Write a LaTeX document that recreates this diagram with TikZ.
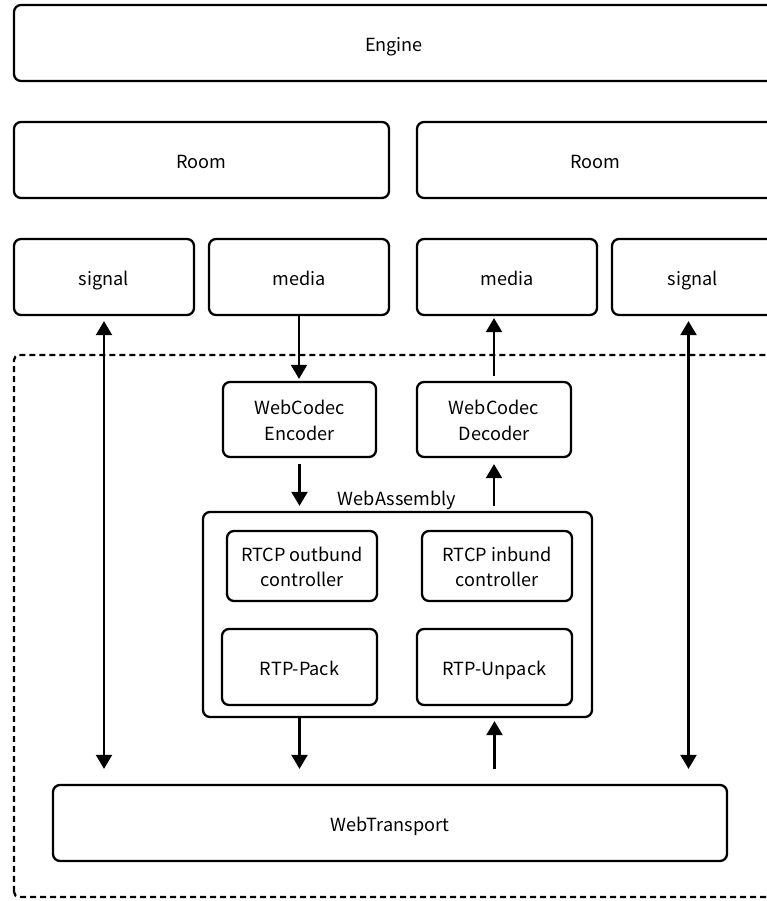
\documentclass[tikz,border=0pt]{standalone}
\usepackage{fontspec}
\setmainfont{Noto Sans CJK SC}
\usetikzlibrary{arrows.meta,positioning,calc}

\begin{document}
\begin{tikzpicture}[line width=1.3pt,
	box/.style={draw, rounded corners=0.14cm, align=center, inner sep=0pt,
		font=\fontsize{10.3}{14.5}\selectfont},
	oneline/.style={text height=0.95em, text depth=0.02em},
	twoline/.style={text height=2.57em, text depth=0.2em},
	arr/.style={-{Triangle[length=0.28cm,width=0.32cm]}},
	dblarr/.style={{Triangle[length=0.28cm,width=0.32cm]}-{Triangle[length=0.28cm,width=0.32cm]}}]
	\clip (0,0) rectangle (15.34,18.02);

	% top layers
	\node[box, oneline, minimum width=15.2cm, minimum height=1.52cm] (engine) at (7.88,17.16) {Engine};
	\node[box, oneline, minimum width=7.5cm, minimum height=1.52cm] (roomL) at (4.03,14.82) {Room};
	\node[box, oneline, minimum width=7.14cm, minimum height=1.52cm] (roomR) at (11.91,14.82) {Room};

	\node[box, oneline, minimum width=3.6cm, minimum height=1.52cm] (sigL) at (2.08,12.48) {signal};
	\node[box, oneline, minimum width=3.6cm, minimum height=1.52cm] (mediaL) at (5.98,12.48) {media};
	\node[box, oneline, minimum width=3.6cm, minimum height=1.52cm] (mediaR) at (10.14,12.48) {media};
	\node[box, oneline, minimum width=3.24cm, minimum height=1.52cm] (sigR) at (13.86,12.48) {signal};

	% browser side
	\draw[dash pattern=on 0.12cm off 0.08cm, rounded corners=0.1cm] (0.28,0.08) rectangle (15.48,10.92);

	\node[box, twoline, minimum width=3.06cm, minimum height=1.5cm] (enc) at (5.99,9.63) {WebCodec\\Encoder};
	\node[box, twoline, minimum width=3.08cm, minimum height=1.5cm] (dec) at (9.88,9.63) {WebCodec\\Decoder};

	\node[box, minimum width=7.78cm, minimum height=4.1cm] (wa) at (7.95,5.73) {};
	\node[oneline, font=\fontsize{10.3}{14.5}\selectfont] (walabel) at (7.94,8.08) {WebAssembly};
	\node[box, twoline, minimum width=3.0cm, minimum height=1.4cm] (rtcpout) at (6.04,6.70) {RTCP outbund\\controller};
	\node[box, twoline, minimum width=3.0cm, minimum height=1.4cm] (rtcpin) at (9.94,6.70) {RTCP inbund\\controller};
	\node[box, oneline, minimum width=3.1cm, minimum height=1.52cm] (pack) at (5.99,4.68) {RTP-Pack};
	\node[box, oneline, minimum width=3.1cm, minimum height=1.52cm] (unpack) at (9.89,4.68) {RTP-Unpack};

	\node[box, oneline, minimum width=13.48cm, minimum height=1.52cm] (wt) at (7.8,1.56) {WebTransport};

	% arrows
	\draw[dblarr, shorten <=0.1cm, shorten >=0.3cm] (sigL.south) -- (sigL.south |- wt.north);
	\draw[dblarr, shorten <=0.1cm, shorten >=0.3cm] ([xshift=-0.09cm]sigR.south) -- ([xshift=-0.09cm]sigR.south |- wt.north);

	\draw[arr, shorten >=0.04cm] (mediaL.south) -- (mediaL.south |- enc.north);
	\draw[arr, shorten <=0.12cm, shorten >=0.1cm] (enc.south) -- (enc.south |- wa.north);
	\draw[arr, shorten <=0.1cm, shorten >=0.12cm] (dec.south |- wa.north) -- (dec.south);
	\draw[arr, shorten <=0.1cm, shorten >=0.04cm] (dec.north) -- (dec.north |- mediaR.south);

	\draw[arr, shorten >=0.3cm] (pack.south |- wa.south) -- (pack.south |- wt.north);
	\draw[arr, shorten <=0.3cm, shorten >=0.06cm] (unpack.south |- wt.north) -- (unpack.south |- wa.south);

\end{tikzpicture}
\end{document}
